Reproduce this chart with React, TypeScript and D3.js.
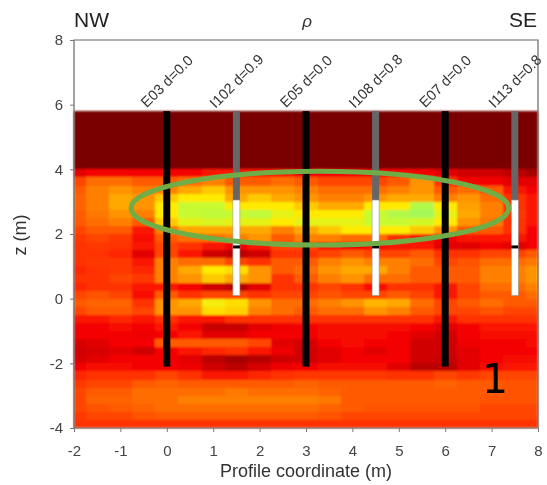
import { useRef, useEffect } from "react";
import * as d3 from "d3";

// profile positions of the model columns (m)
const columns = d3.range(-2, 8.01, 0.5);
// top of each layer; the first layer is the air block, the rest are 0.25 m thick
const layerTops = [5.8, ...d3.range(4, -4, -0.25)];
const bottom = -4;

const air = columns.map(() => 0);
const layers = [
  air,
  [2.5, 3, 3, 3, 3, 3, 3.5, 3.5, 3.5, 3.5, 3, 3, 3, 3, 3, 3, 2.5, 2, 2, 1.5, 1],
  [4.5, 5.5, 5.5, 5, 5, 5.5, 6, 5, 5, 5.5, 5, 4.5, 4.5, 4.5, 5, 6.5, 4, 3, 3, 2.5, 2.5],
  [5, 6, 6.5, 6, 6, 7, 7.5, 6.5, 6.5, 6.5, 6, 5.5, 5.5, 5.5, 6, 6.5, 5, 5.5, 5, 3.5, 3],
  [5.2, 6, 7, 6.5, 7.5, 8, 8, 7, 7.5, 7, 6.5, 6, 6, 6.5, 7, 7, 6, 6.5, 5.5, 4, 3.5],
  [5.2, 6, 7, 6.5, 8, 9, 9, 8, 8, 8, 7.5, 7, 7, 8, 8, 9.5, 8, 6.8, 6, 4, 3.5],
  [5, 5.8, 6.5, 6, 8, 9, 9.2, 9, 9.2, 8.5, 8, 8, 8, 9, 9.5, 9.8, 8.5, 7, 6, 4.2, 3.5],
  [5, 5.5, 6, 5, 7.5, 8.5, 8.7, 8.5, 8.5, 8, 8.5, 8.5, 8.5, 9, 9, 8.8, 8, 6.5, 5.8, 4, 3.5],
  [4.5, 5, 5, 3.5, 6, 7, 7, 7, 7, 6, 7, 7.5, 8, 8, 8, 7.5, 6.5, 5, 5, 4, 3],
  [4.2, 4.5, 4.2, 3.2, 5, 5.5, 5.5, 6, 6.5, 5, 6, 6, 5.5, 5.5, 4, 3.5, 3, 3.5, 3.5, 3.5, 3],
  [4, 4.2, 4, 3.5, 4.5, 4, 3.5, 3, 3.5, 4.5, 4.5, 3.5, 3, 3.2, 3.5, 3.5, 2.5, 2.5, 3, 2.5, 3],
  [4, 4, 3.8, 2.5, 4.5, 3.5, 2, 1.5, 2, 4, 4, 4.5, 5, 4.5, 4.5, 5, 4, 4, 4.5, 4.5, 5],
  [4, 4.2, 4.2, 3.5, 6, 5.5, 5.5, 4.5, 4, 5, 5, 6, 6.5, 6, 6, 5.5, 4.5, 4.8, 5.5, 5.5, 5.8],
  [3.8, 4, 4.2, 3.8, 6, 7, 8, 7.8, 6.5, 5, 5.5, 6.5, 7, 7, 6, 5, 5, 5, 6, 6, 6.5],
  [4, 4, 4.5, 4.2, 6, 6.5, 7.5, 7, 6.5, 4, 5, 6, 6.5, 5.5, 5.5, 5, 5, 5, 6, 6, 6.5],
  [3.8, 4, 4, 3.5, 3.5, 3, 2, 1.5, 2.5, 4, 4, 4.5, 4, 3.2, 4, 4, 3.5, 4.5, 5.5, 5.5, 6],
  [4.5, 4.8, 4.5, 3.2, 5, 4, 4.5, 4.5, 4, 4.5, 4.5, 4.8, 4.5, 4.5, 5, 4.5, 3.5, 4.5, 5, 5, 5.5],
  [5, 5.2, 5.2, 4, 6.5, 7, 8.2, 7.8, 6.5, 5.5, 5.5, 6, 6.5, 7.2, 7, 5.5, 4.5, 5, 5.5, 5, 5],
  [4.5, 5, 5, 4.5, 6.5, 6.5, 7.8, 7.6, 6, 5.5, 5, 5.5, 5.5, 6.5, 6, 5, 4.5, 4.5, 4.8, 4.5, 4.5],
  [3.5, 3.5, 3.8, 3.5, 4, 3.5, 3.5, 4, 4, 4, 4, 4, 4, 4, 4, 4, 3.5, 4, 4, 4, 4],
  [3, 3, 3.2, 3, 3.5, 3, 1.8, 1.8, 2.5, 2.8, 3, 3.2, 3.2, 3.2, 3.2, 3, 2.5, 3, 3.5, 3.5, 3.5],
  [3, 3, 3, 2.8, 3, 3.5, 2.5, 2.5, 3, 3, 3, 3.2, 3.2, 3.2, 3, 2.5, 2, 3, 3.2, 3.2, 3.2],
  [2.2, 2.5, 3, 3, 5, 5, 5, 5, 4.5, 2.5, 2.2, 3, 3.2, 3, 3, 2, 2, 2.8, 3, 3, 3.2],
  [2, 2.2, 2.5, 2, 3, 3.5, 3.8, 4, 3.5, 2.8, 2, 2.5, 3, 2.5, 3, 2, 2, 2.5, 3, 3, 3],
  [2.2, 2.5, 3, 3, 3, 2.5, 1.5, 1, 1.3, 2, 2, 2.5, 3, 3, 3, 2, 1.8, 2.5, 3, 3.2, 3.2],
  [3, 3.2, 3.2, 3, 3, 2.8, 2, 1.5, 2.2, 2.8, 3, 3.2, 3.2, 3.2, 2.5, 1.5, 1.5, 2.5, 3.2, 3.5, 3.5],
  [3.8, 4, 4, 4, 4.5, 4, 3.5, 3.5, 3.8, 4, 4.2, 4.2, 4.2, 4.2, 4, 4, 4.5, 4.2, 4.5, 4.5, 4.5],
  [4.2, 4.5, 4.5, 5, 5.2, 5, 5, 5, 5, 5, 5.2, 5, 5, 5, 5, 5, 5.2, 5, 5, 4.8, 4.8],
  [4.5, 5, 5, 5.5, 5.5, 5.5, 5.5, 5.8, 5.5, 5.5, 5.5, 5.2, 5, 5, 5, 5, 5, 5, 5, 4.8, 4.8],
  [4.5, 5.2, 5.2, 5.5, 5.5, 6, 6, 6, 6, 6, 6, 5.8, 5, 5, 5, 5, 5, 5, 4.8, 4.8, 4.8],
  [4.5, 4.8, 5, 5.2, 5.5, 5.5, 5.5, 5.5, 5.5, 5.5, 5.5, 5.2, 5, 4.8, 4.8, 4.8, 4.8, 4.8, 4.5, 4.5, 4.5],
  [4.2, 4.5, 4.5, 4.8, 5, 5, 5, 5, 5, 5, 5, 4.8, 4.5, 4.5, 4.5, 4.5, 4.5, 4.5, 4.5, 4.5, 4.5],
  [4, 4, 4, 4, 4, 4, 4, 4, 4, 4, 4, 4, 4, 4, 4, 4, 4, 4, 4, 4, 4],
];

const classStops = [0, 1, 2, 3, 4, 5, 6, 7, 8, 9, 10];
const classColors = ["#7a0000", "#a80000", "#d00000", "#f50000", "#ff3000", "#ff5a00", "#ff8000", "#ffa800", "#ffea00", "#c8fa30", "#9cf860"];

// boreholes: electrode chains go down to endZ, the others carry a white screen
const wellNames = ["E03 d=0.0", "I102 d=0.9", "E05 d=0.0", "I108 d=0.8", "E07 d=0.0", "I113 d=0.8"];
const wellX = [0, 1.5, 3, 4.5, 6, 7.5];
const electrodeEndZ = -2.1;
const screenTopZ = 3.05;
const screenEndZ = 0.1;
const packerZ = 1.6;

export default function App() {
  const ref = useRef<SVGSVGElement>(null);

  useEffect(() => {
    const svg = d3.select(ref.current);
    svg.selectAll("*").remove();

    const x = d3.scaleLinear().domain([-2, 8]).range([74, 538]);
    const y = d3.scaleLinear().domain([-4, 8]).range([428, 40]);
    const color = d3.scaleLinear<string>().domain(classStops).range(classColors);

    const defs = svg.append("defs");
    defs.append("filter").attr("id", "soft").append("feGaussianBlur").attr("stdDeviation", 1);
    defs.append("filter").attr("id", "softWell").append("feGaussianBlur").attr("stdDeviation", 0.6);
    defs.append("filter").attr("id", "softText").append("feGaussianBlur").attr("stdDeviation", 0.35);

    // heat map
    const heat = svg.append("g").attr("filter", "url(#soft)").attr("shape-rendering", "crispEdges");
    layers.forEach((row, r) => {
      const top = layerTops[r];
      const low = r + 1 < layerTops.length ? layerTops[r + 1] : bottom;
      heat
        .append("g")
        .selectAll("rect")
        .data(row)
        .join("rect")
        .attr("x", (d, i) => x(Math.max(-2, columns[i] - 0.25)))
        .attr("width", (d, i) => x(Math.min(8, columns[i] + 0.25)) - x(Math.max(-2, columns[i] - 0.25)))
        .attr("y", y(top))
        .attr("height", y(low) - y(top))
        .attr("fill", (d) => color(d));
    });

    // boreholes
    const wells = svg.append("g").attr("filter", "url(#softWell)");
    const wellWidth = 7;
    wellX.forEach((w, i) => {
      const cx = x(w) - wellWidth / 2;
      if (wellNames[i].startsWith("E")) {
        wells.append("rect").attr("x", cx).attr("y", y(5.8)).attr("width", wellWidth)
          .attr("height", y(electrodeEndZ) - y(5.8)).attr("fill", "#000");
      } else {
        wells.append("rect").attr("x", cx).attr("y", y(5.8)).attr("width", wellWidth)
          .attr("height", y(screenTopZ) - y(5.8)).attr("fill", "#666");
        wells.append("rect").attr("x", cx).attr("y", y(screenTopZ)).attr("width", wellWidth)
          .attr("height", y(screenEndZ) - y(screenTopZ)).attr("fill", "#fff")
          .attr("stroke", "#999").attr("stroke-width", 0.6);
        wells.append("rect").attr("x", cx).attr("y", y(packerZ) - 1.5).attr("width", wellWidth)
          .attr("height", 3).attr("fill", "#000");
      }
    });

    // frame and axes
    const axes = svg.append("g").attr("filter", "url(#softText)")
      .attr("font-family", "'Liberation Sans', Arial, sans-serif").attr("fill", "#333");
    axes.append("path")
      .attr("d", `M${x(-2)},${y(-4)}V${y(8)}H${x(8)}V${y(-4)}Z`)
      .attr("fill", "none").attr("stroke", "#666").attr("stroke-width", 1.2);

    const gX = axes.append("g").attr("transform", `translate(0,${y(-4)})`)
      .call(d3.axisBottom(x).ticks(10).tickSize(4).tickPadding(13).tickSizeOuter(0));
    const gY = axes.append("g").attr("transform", `translate(${x(-2)},0)`)
      .call(d3.axisLeft(y).tickValues(d3.range(-4, 9, 2)).tickSize(4).tickPadding(7).tickSizeOuter(0));
    [gX, gY].forEach((g) => {
      g.select(".domain").remove();
      g.selectAll("line").attr("stroke", "#777");
      g.selectAll("text").attr("font-size", 15).attr("fill", "#444")
        .attr("font-family", "'Liberation Sans', Arial, sans-serif")
        .text((d: any) => String(d));
    });

    // well labels
    wellX.forEach((w, i) => {
      axes.append("text")
        .attr("transform", `translate(${x(w)},${y(5.8) - 30}) rotate(-45)`)
        .attr("text-anchor", "middle")
        .attr("dy", "0.35em")
        .attr("font-size", 14.5).attr("fill", "#333")
        .text(wellNames[i]);
    });

    axes.append("text").attr("x", 306).attr("y", 477).attr("text-anchor", "middle")
      .attr("font-size", 18).attr("fill", "#333").text("Profile coordinate (m)");
    axes.append("text").attr("transform", "translate(26,235) rotate(-90)").attr("text-anchor", "middle")
      .attr("font-size", 18).attr("fill", "#333").text("z (m)");
    axes.append("text").attr("x", 74).attr("y", 27).attr("font-size", 21).attr("fill", "#222").text("NW");
    axes.append("text").attr("x", 537).attr("y", 27).attr("text-anchor", "end").attr("font-size", 21).attr("fill", "#222").text("SE");
    axes.append("text").attr("x", 307).attr("y", 27).attr("text-anchor", "middle").attr("font-size", 17)
      .attr("font-style", "italic").attr("fill", "#333").text("ρ");

    // annotation
    svg.append("ellipse")
      .attr("cx", x(3.3)).attr("cy", y(2.8))
      .attr("rx", x(7.37) - x(3.3)).attr("ry", y(1.66) - y(2.8))
      .attr("fill", "none").attr("stroke", "#70ad47").attr("stroke-width", 5);
    svg.append("text").attr("x", 495).attr("y", 393).attr("text-anchor", "middle")
      .attr("font-family", "'DejaVu Sans', sans-serif").attr("font-size", 41).attr("fill", "#000").text("1");
  }, []);

  return <svg ref={ref} width={547} height={485} style={{ position: "absolute", left: 0, top: 0, background: "#fff" }} />;
}
